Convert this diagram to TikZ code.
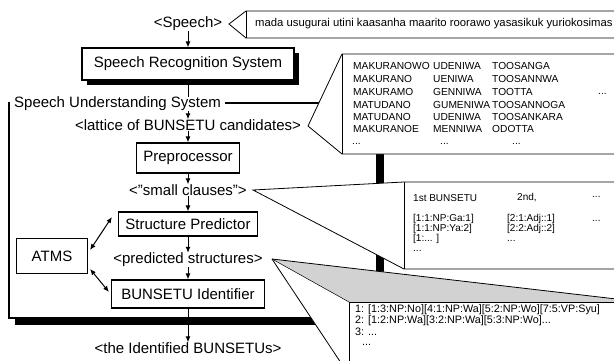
\documentclass[tikz,border=0pt]{standalone}
\usepackage{fontspec}
\setmainfont{Liberation Sans}
\usetikzlibrary{arrows.meta,calc}
\begin{document}
\begin{tikzpicture}[x=1pt,y=-1pt,
  lbl/.style={font=\fontsize{15}{17}\selectfont, inner sep=0pt},
  procbox/.style={draw, line width=1.1pt, font=\fontsize{15}{17}\selectfont, inner sep=0pt, fill=white},
  latt/.style={font=\fontsize{10.2}{12}\selectfont, inner sep=0pt, anchor=west},
  cls/.style={font=\fontsize{10}{12}\selectfont, inner sep=0pt, anchor=west},
  prd/.style={font=\fontsize{10.8}{13}\selectfont, inner sep=0pt, anchor=west},
  flow/.style={-{Latex[length=6pt,width=5pt]}, line width=1pt},
  biflow/.style={{Latex[length=6pt,width=5pt]}-{Latex[length=6pt,width=5pt]}, line width=1pt},
  callout/.style={draw, line width=0.8pt, fill=white},
  thinline/.style={line width=0.8pt}]
\useasboundingbox (0,0) rectangle (614,361);
\clip (0,0) rectangle (614,361);
\fill[white] (0,0) rectangle (614,361);

% ---- speech input ----
\node[lbl] (speech) at (188,24) {<Speech>};
\draw[callout] (229,24) -- (246,11) -- (625,11) -- (625,38) -- (246,38) -- cycle;
\draw[thinline] (246,11) -- (246,38);
\node[font=\fontsize{11.3}{13}\selectfont, inner sep=0pt, anchor=west] (speechtxt) at (255,24)
  {mada usugurai utini kaasanha maarito roorawo yasasikuk yuriokosimas};

% ---- speech recognition system ----
\fill (87,53) rectangle (299,85);
\node[procbox, minimum width=212pt, minimum height=32pt] (srs) at (188,64) {Speech Recognition System};

% ---- speech understanding system (big box) ----
\fill (15,109) rectangle (384,325);
\draw[line width=1.1pt, fill=white] (9,103) rectangle (377,318);

\node[lbl] (lattice) at (188,125) {<lattice of BUNSETU candidates>};
\draw[flow] (speech) -- (srs);
\draw[flow] (srs) -- (lattice);
\node[lbl, fill=white, inner xsep=4pt, anchor=west] (sus) at (10,104) {Speech Understanding System};

\node[procbox, minimum width=103pt, minimum height=30pt] (pre) at (188,158) {Preprocessor};
\node[lbl] (clauses) at (188,190) {<"small clauses">};
\node[procbox, minimum width=139pt, minimum height=24pt] (sp) at (188,224) {Structure Predictor};
\node[lbl] (pred) at (188,260) {<predicted structures>};
\node[procbox, minimum width=153pt, minimum height=28pt] (bi) at (188,294) {BUNSETU Identifier};
\node[procbox, minimum width=71pt, minimum height=35pt] (atms) at (52,256) {ATMS};
\node[lbl] (ident) at (188,348) {<the Identified BUNSETUs>};

\draw[flow] (lattice) -- (pre);
\draw[flow] (pre) -- (clauses);
\draw[flow] (clauses) -- (sp);
\draw[flow] (sp) -- (pred);
\draw[flow] (pred) -- (bi);
\draw[flow] (bi) -- (ident);
\draw[biflow] ($(atms.east)+(2,-6)$) -- ($(sp.west)+(-6,-7)$);
\draw[biflow] ($(atms.east)+(2,13)$) -- ($(bi.west)+(-2,-2)$);

% ---- lattice callout ----
\draw[callout] (308,126) -- (342,54) -- (625,54) -- (625,154) -- (342,154) -- cycle;
\draw[thinline] (342,54) -- (342,154);
\node[latt] (l11) at (353,66) {MAKURANOWO};
\node[latt] (l21) at (353,79) {MAKURANO};
\node[latt] (l31) at (353,92) {MAKURAMO};
\node[latt] (l41) at (353,105) {MATUDANO};
\node[latt] (l51) at (353,117) {MATUDANO};
\node[latt] (l61) at (353,129) {MAKURANOE};
\node[latt] (l12) at (433,66) {UDENIWA};
\node[latt] (l22) at (433,79) {UENIWA};
\node[latt] (l32) at (433,92) {GENNIWA};
\node[latt] (l42) at (433,105) {GUMENIWA};
\node[latt] (l52) at (433,117) {UDENIWA};
\node[latt] (l62) at (433,129) {MENNIWA};
\node[latt] (l13) at (492,66) {TOOSANGA};
\node[latt] (l23) at (492,79) {TOOSANNWA};
\node[latt] (l33) at (492,92) {TOOTTA};
\node[latt] (l43) at (492,105) {TOOSANNOGA};
\node[latt] (l53) at (492,117) {TOOSANKARA};
\node[latt] (l63) at (492,129) {ODOTTA};
\node[latt] (ld1) at (352,144) {...};
\node[latt] (ld2) at (440,144) {...};
\node[latt] (ld3) at (512,144) {...};
\node[latt] (ldr) at (598,94) {...};

% ---- small clauses callout ----
\draw[callout] (253,190) -- (404,182) -- (625,182) -- (625,269) -- (404,269) -- cycle;
\draw[thinline] (404,182) -- (404,269);
\node[cls] (c0a) at (413,198) {1st BUNSETU};
\node[cls] (c0b) at (517,198) {2nd,};
\node[cls] (c0c) at (592,197) {...};
\node[cls] (c1a) at (413,219) {[1:1:NP:Ga:1]};
\node[cls] (c2a) at (413,229) {[1:1:NP:Ya:2]};
\node[cls] (c3a) at (413,239) {[1:... ]};
\node[cls] (c4a) at (413,251) {...};
\node[cls] (c1b) at (507,219) {[2:1:Adj::1]};
\node[cls] (c2b) at (507,229) {[2:2:Adj::2]};
\node[cls] (c3b) at (507,241) {...};
\node[cls] (c1c) at (592,221) {...};

% ---- predicted structures callout ----
\fill[white] (272,259) -- (625,300) -- (625,375) -- (349,375) -- cycle;
\fill[gray!35] (272,259) -- (625,300) -- (625,302) -- (349,302) -- cycle;
\draw[line width=0.9pt, fill=white] (349,302) rectangle (625,375);
\draw[thinline] (272,259) -- (625,300);
\draw[line width=0.5pt] (272,259) -- (349,302);
\draw[thinline] (272,259) -- (349,375);
\node[prd] (p1) at (355,310) {1: [1:3:NP:No][4:1:NP:Wa][5:2:NP:Wo][7:5:VP:Syu]};
\node[prd] (p2) at (355,321) {2: [1:2:NP:Wa][3:2:NP:Wa][5:3:NP:Wo]...};
\node[prd] (p3) at (355,332) {3: ...};
\node[prd] (p4) at (362,345) {...};
\end{tikzpicture}
\end{document}
